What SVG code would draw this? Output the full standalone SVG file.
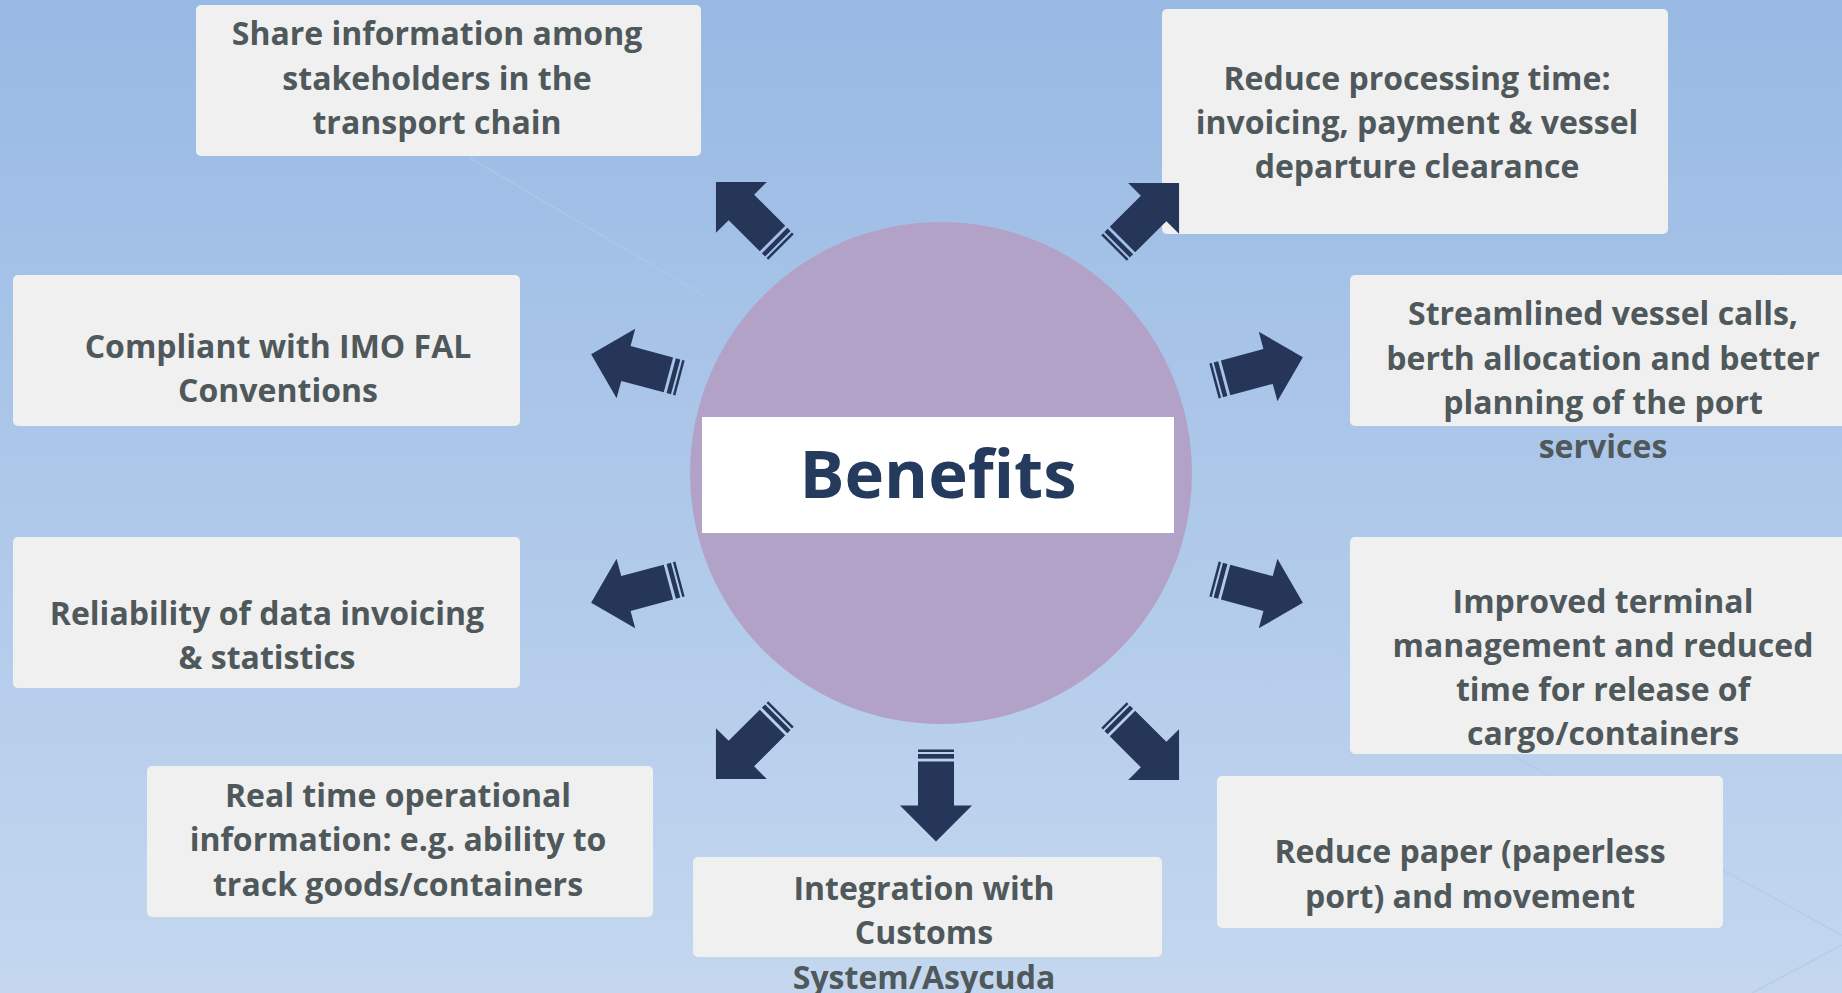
<svg xmlns="http://www.w3.org/2000/svg" xmlns:xlink="http://www.w3.org/1999/xlink" width="1842" height="993" viewBox="0 0 1842 993">
  <defs>
    <linearGradient id="bg" x1="0" y1="0" x2="0" y2="1">
      <stop offset="0" stop-color="#98b9e4"/>
      <stop offset="1" stop-color="#c4d7ef"/>
    </linearGradient>
    <!-- block arrow pointing along +x, tail at the origin -->
    <g id="arrow">
      <rect x="0" y="-18" width="2.5" height="36"/>
      <rect x="4.5" y="-18" width="4.6" height="36"/>
      <polygon points="12,-18 56,-18 56,-36 92,0 56,36 56,18 12,18"/>
    </g>
    <style>
      .box { fill: #f0f0f0; }
      .lbl { font-family: "Open Sans", "Liberation Sans", sans-serif; font-weight: 700; font-size: 32px; fill: #4f585b; text-anchor: middle; }
      .title { font-family: "Open Sans", "Liberation Sans", sans-serif; font-weight: 700; font-size: 67px; fill: #243b5e; text-anchor: middle; }
      .arrows { fill: #263659; }
      .streak { stroke: #b4c8e6; stroke-width: 1.5; fill: none; opacity: 0.7; }
    </style>
  </defs>

  <!-- backdrop -->
  <rect x="0" y="0" width="1842" height="993" fill="url(#bg)"/>
  <g id="backdrop-lines">
    <line class="streak" x1="470" y1="158" x2="705" y2="296" stroke="#c9daf1" stroke-width="4" opacity="0.3"/>
    <line class="streak" x1="1170" y1="555" x2="1352" y2="654"/>
    <line class="streak" x1="1480" y1="738" x2="1842" y2="935"/>
    <line class="streak" x1="1842" y1="945" x2="1752" y2="993"/>
  </g>

  <!-- central hub -->
  <g id="hub">
    <circle cx="941" cy="473" r="251" fill="#b3a2c8"/>
    <rect x="702" y="417" width="472" height="116" fill="#ffffff"/>
    <text class="title" x="938" y="498">Benefits</text>
  </g>

  <!-- benefit boxes -->
  <g id="n-share">
    <rect class="box" x="196" y="5" width="505" height="151" rx="5"/>
    <text class="lbl" x="437" y="45">Share information among</text>
    <text class="lbl" x="437" y="90">stakeholders in the</text>
    <text class="lbl" x="437" y="134">transport chain</text>
  </g>
  <g id="n-processing-time">
    <rect class="box" x="1162" y="9" width="506" height="225" rx="5"/>
    <text class="lbl" x="1417" y="90">Reduce processing time:</text>
    <text class="lbl" x="1417" y="134">invoicing, payment &amp; vessel</text>
    <text class="lbl" x="1417" y="178">departure clearance</text>
  </g>
  <g id="n-compliant">
    <rect class="box" x="13" y="275" width="507" height="151" rx="5"/>
    <text class="lbl" x="278" y="358">Compliant with IMO FAL</text>
    <text class="lbl" x="278" y="402">Conventions</text>
  </g>
  <g id="n-streamlined">
    <rect class="box" x="1350" y="275" width="500" height="151" rx="5"/>
    <text class="lbl" x="1603" y="325">Streamlined vessel calls,</text>
    <text class="lbl" x="1603" y="370">berth allocation and better</text>
    <text class="lbl" x="1603" y="414">planning of the port</text>
    <text class="lbl" x="1603" y="458">services</text>
  </g>
  <g id="n-reliability">
    <rect class="box" x="13" y="537" width="507" height="151" rx="5"/>
    <text class="lbl" x="267" y="625">Reliability of data invoicing</text>
    <text class="lbl" x="267" y="669">&amp; statistics</text>
  </g>
  <g id="n-terminal">
    <rect class="box" x="1350" y="537" width="500" height="217" rx="5"/>
    <text class="lbl" x="1603" y="613">Improved terminal</text>
    <text class="lbl" x="1603" y="657">management and reduced</text>
    <text class="lbl" x="1603" y="701">time for release of</text>
    <text class="lbl" x="1603" y="745">cargo/containers</text>
  </g>
  <g id="n-realtime">
    <rect class="box" x="147" y="766" width="506" height="151" rx="5"/>
    <text class="lbl" x="398" y="807">Real time operational</text>
    <text class="lbl" x="398" y="851">information: e.g. ability to</text>
    <text class="lbl" x="398" y="896">track goods/containers</text>
  </g>
  <g id="n-customs">
    <rect class="box" x="693" y="857" width="469" height="100" rx="5"/>
    <text class="lbl" x="924" y="900">Integration with</text>
    <text class="lbl" x="924" y="944">Customs</text>
    <text class="lbl" x="924" y="989">System/Asycuda</text>
  </g>
  <g id="n-paperless">
    <rect class="box" x="1217" y="776" width="506" height="152" rx="5"/>
    <text class="lbl" x="1470" y="863">Reduce paper (paperless</text>
    <text class="lbl" x="1470" y="908">port) and movement</text>
  </g>

  <!-- connectors: arrows radiating from the hub -->
  <g id="connectors" class="arrows">
    <use xlink:href="#arrow" transform="translate(781 247) rotate(-135)"/>
    <use xlink:href="#arrow" transform="translate(1114 248) rotate(-45)"/>
    <use xlink:href="#arrow" transform="translate(680 378) rotate(195)"/>
    <use xlink:href="#arrow" transform="translate(1214 381) rotate(-15)"/>
    <use xlink:href="#arrow" transform="translate(680 579) rotate(165)"/>
    <use xlink:href="#arrow" transform="translate(1214 579) rotate(15)"/>
    <use xlink:href="#arrow" transform="translate(781 714) rotate(135)"/>
    <use xlink:href="#arrow" transform="translate(936 749.5) rotate(90)"/>
    <use xlink:href="#arrow" transform="translate(1114 715) rotate(45)"/>
  </g>
</svg>
